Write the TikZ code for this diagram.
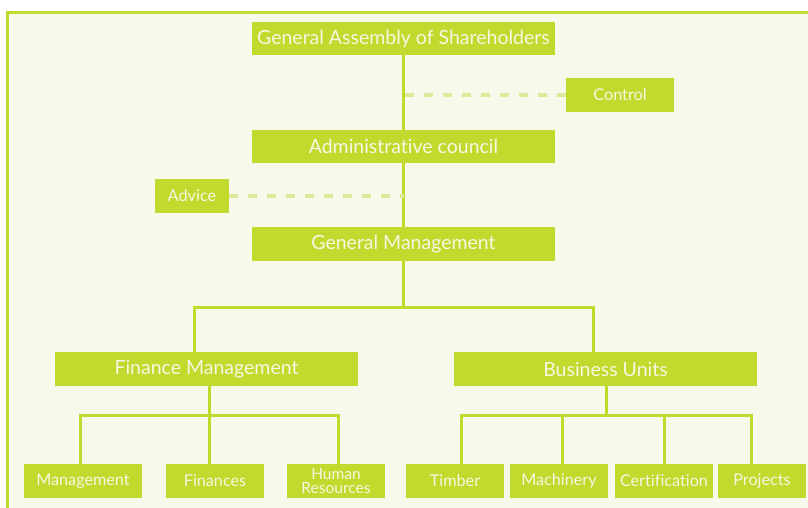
\documentclass[tikz,border=0pt]{standalone}
\usepackage{fontspec}
\setmainfont[Ligatures={NoCommon,NoDiscretionary}]{Lato}
\definecolor{lime}{RGB}{194,217,46}
\definecolor{paper}{RGB}{247,249,234}
\definecolor{cream}{RGB}{246,248,226}
\definecolor{palelime}{RGB}{222,234,154}

\begin{document}
\begin{tikzpicture}[x=1pt,y=-1pt]
    \tikzstyle{box}=[fill=lime,text=cream,inner sep=0pt,minimum height=33.5pt]
    \tikzstyle{unit}=[box,minimum width=303pt,font=\fontsize{19.5}{22}\selectfont]
    \tikzstyle{side}=[box,minimum height=34pt,font=\fontsize{16.3}{19}\selectfont]
    \tikzstyle{leaf}=[box,minimum height=34pt,minimum width=98pt,font=\fontsize{16.2}{18}\selectfont]
    \tikzstyle{link}=[draw=lime,line width=3pt]
    \tikzstyle{dashlink}=[draw=palelime,line width=3.4pt,dash pattern=on 9pt off 10pt]

    % page and frame
    \fill[white] (0,0) rectangle (808,508);
    \useasboundingbox (0,0) rectangle (808,508);
    \filldraw[fill=paper,draw=lime,line width=3pt] (7.5,12.5) rectangle (830,530);

    % top of the chart
    \node[unit] (gasm) at (403.5,38.5) {General Assembly of Shareholders};
    \node[unit] (admin) at (403.5,146.5) {Administrative council};
    \node[unit] (gm) at (403.5,244) {General Management};
    \node[side,minimum width=108pt] (control) at (620,95) {Control};
    \node[side,minimum width=74pt] (advice) at (192,196) {Advice};

    % second level
    \node[unit,minimum height=34pt] (fm) at (206.5,369) {Finance Management};
    \node[unit,minimum height=34pt] (bu) at (605.5,369) {Business Units};

    % departments
    \node[leaf,minimum width=118pt] (mgmt) at (83,481) {Management};
    \node[leaf] (fin) at (215,481) {Finances};
    \node[leaf,font=\fontsize{15.5}{14.5}\selectfont,align=center] (hr) at (336,481) {Human\\Resources};
    \node[leaf] (timber) at (455,481) {Timber};
    \node[leaf] (mach) at (559,481) {Machinery};
    \node[leaf] (cert) at (664,481) {Certification};
    \node[leaf,minimum width=88pt] (proj) at (762,481) {Projects};

    % main line
    \path[link] (gasm.south) -- (admin.north);
    \path[link] (admin.south) -- (gm.north);
    \path[dashlink] (control.west) -- (control.west -| gasm.south);
    \path[dashlink] (advice.east) -- (advice.east -| admin.south);

    % split below general management
    \coordinate (mb) at (403.5,307.5);
    \path[link] (gm.south) -- (mb);
    \path[link] ([xshift=-12pt]fm.north) |- (mb) -| ([xshift=-12pt]bu.north);

    % finance branch
    \coordinate (fb) at (209,415);
    \path[link] (fm.south -| fb) -- (fb);
    \path[link] ([xshift=-2.5pt]mgmt.north) |- ([xshift=2pt]hr.north |- fb) -- ([xshift=2pt]hr.north);
    \path[link] (fin.north -| fb) -- (fb);

    % business branch
    \coordinate (bb) at (606.5,415);
    \path[link] (bu.south -| bb) -- (bb);
    \path[link] ([xshift=6pt]timber.north) |- ([xshift=-10.5pt]proj.north |- bb) -- ([xshift=-10.5pt]proj.north);
    \path[link] ([xshift=3.5pt]mach.north) -- ([xshift=3.5pt]mach.north |- bb);
    \path[link] (cert.north) -- (cert.north |- bb);
\end{tikzpicture}
\end{document}
